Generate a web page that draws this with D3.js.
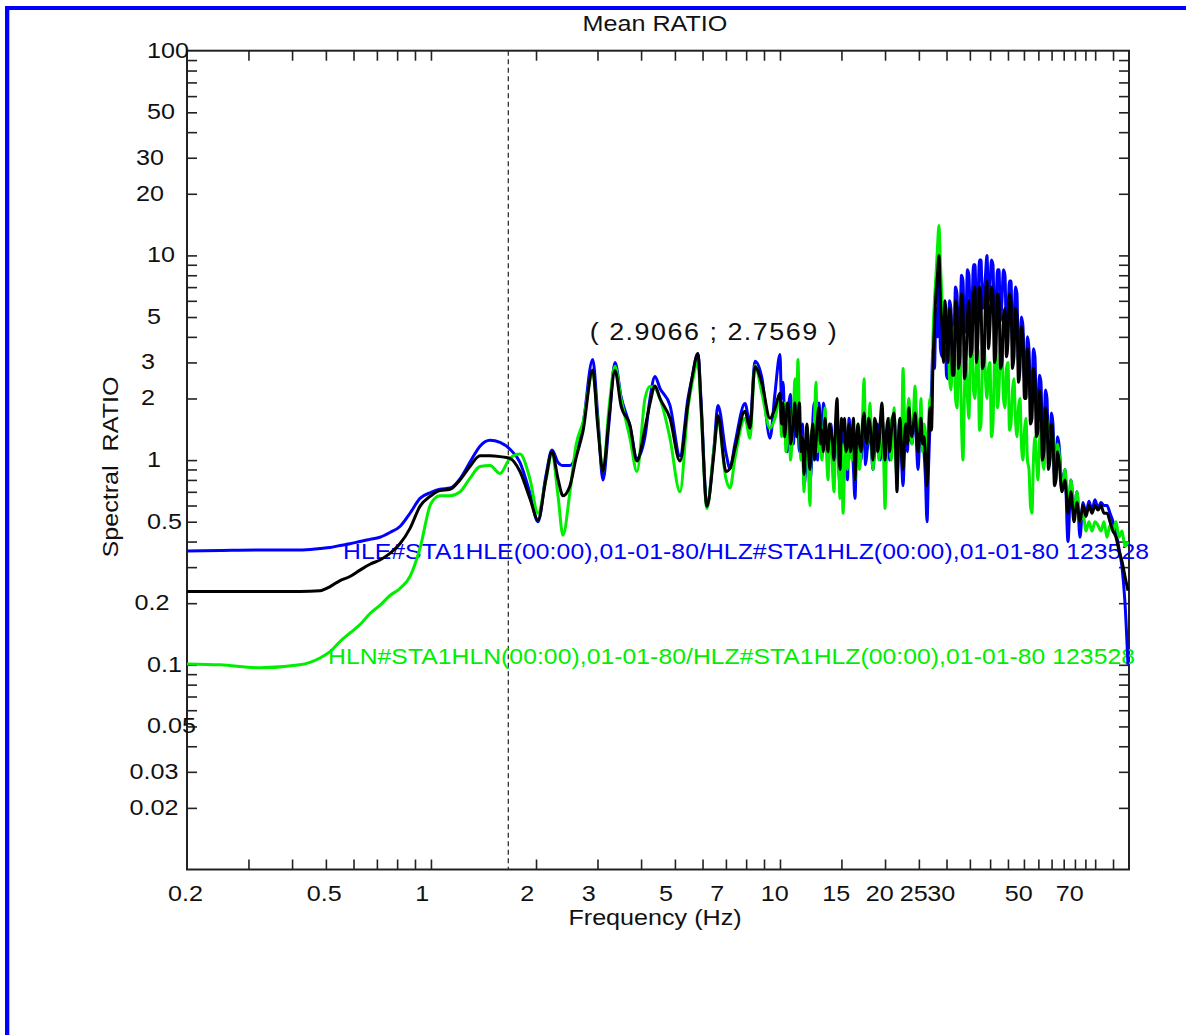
<!DOCTYPE html>
<html>
<head>
<meta charset="utf-8">
<script src="https://cdn.jsdelivr.net/npm/d3@7"></script>
<style>
  html, body { margin: 0; padding: 0; background: #fff; }
  svg { display: block; }
  text { font-family: "Liberation Sans", Arial, sans-serif; fill: #111; white-space: pre; }
</style>
</head>
<body>
<svg id="chart" width="1186" height="1035"></svg>
<script>
// Frequency grid (Hz) shared by the three spectral-ratio curves
const freqHz = [
  0.2, 0.249, 0.324, 0.421, 0.481, 0.514, 0.549, 0.586, 0.626, 0.669,
  0.714, 0.763, 0.815, 0.871, 0.930, 1.0, 1.061, 1.134, 1.211, 1.293,
  1.382, 1.476, 1.577, 1.684, 1.799, 1.921, 2.026, 2.135, 2.222, 2.312,
  2.389, 2.502, 2.603, 2.726, 2.9066, 3.009, 3.110, 3.236, 3.367, 3.503,
  3.717, 3.893, 4.104, 4.242, 4.384, 4.531, 4.840, 5.170, 5.450, 5.596,
  5.821, 5.937, 6.176, 6.469, 6.642, 7.004, 7.191, 7.430, 7.939, 8.204,
  8.479, 8.880, 9.361, 9.676, 10.0,
  10.10, 10.20, 10.30, 10.40, 10.50, 10.61, 10.72, 10.82, 10.93, 11.04,
  11.15, 11.26, 11.37, 11.49, 11.60, 11.72, 11.84, 11.95, 12.07, 12.19,
  12.31, 12.43, 12.55, 12.68, 12.81, 12.93, 13.06, 13.19, 13.32, 13.46,
  13.59, 13.73, 13.87, 14.00, 14.14, 14.28, 14.42, 14.57, 14.71, 14.86,
  15.01, 15.16, 15.31, 15.46, 15.61, 15.77, 15.92, 16.08, 16.24, 16.40,
  16.56, 16.73, 16.90, 17.07, 17.24, 17.41, 17.58, 17.76, 17.94, 18.11,
  18.29, 18.48, 18.66, 18.84, 19.03, 19.22, 19.41, 19.60, 19.80, 20.00,
  20.20, 20.40, 20.60, 20.80, 21.01, 21.22, 21.43, 21.64, 21.86, 22.08,
  22.30, 22.52, 22.74, 22.96, 23.19, 23.42, 23.65, 23.89, 24.13, 24.37,
  24.61, 24.86, 25.10, 25.35, 25.60, 25.86, 26.12, 26.38, 26.64,
  26.90, 27.17, 27.44, 27.71, 27.99, 28.27, 28.55, 28.83, 29.12, 29.41,
  29.70, 30.00, 30.29, 30.60, 30.90, 31.21, 31.52, 31.83, 32.15, 32.47,
  32.79, 33.12, 33.45, 33.78, 34.12, 34.45, 34.79, 35.14, 35.49, 35.84,
  36.20, 36.56, 36.92, 37.29, 37.66, 38.03, 38.41, 38.79, 39.18, 39.57,
  39.96, 40.36, 40.76, 41.17, 41.58, 41.99, 42.41, 42.83, 43.25, 43.68,
  44.12, 44.56, 45.00, 45.45, 45.90, 46.36, 46.82, 47.28, 47.75, 48.23,
  48.71, 49.19, 49.68, 50.17, 50.67, 51.18, 51.69, 52.20, 52.72, 53.24,
  53.77, 54.31, 54.85, 55.39, 55.94, 56.50, 57.06, 57.63, 58.21, 58.79,
  59.37, 59.96, 60.56, 61.16, 61.77, 62.38, 63.00,
  64.26, 65.55, 66.86, 68.19, 69.56, 70.95, 72.37,
  73.81, 75.29, 76.79, 78.34, 79.90, 81.50, 83.13, 84.79, 86.49, 88.22,
  89.99, 91.79, 93.62, 95.49, 97.40, 99.34
];

// HLE / HLZ ratio (blue)
const ratioHLE = [
  0.36, 0.362, 0.364, 0.364, 0.37, 0.374, 0.383, 0.39, 0.40, 0.41,
  0.42, 0.443, 0.474, 0.55, 0.65, 0.695, 0.72, 0.73, 0.81, 0.975,
  1.17, 1.25, 1.22, 1.13, 0.975, 0.69, 0.50, 0.84, 1.12, 0.975,
  0.94, 0.94, 1.05, 1.48, 3.1, 1.6, 0.80, 1.51, 3.0, 2.05,
  1.46, 1.02, 1.30, 2.0, 2.56, 2.24, 1.85, 1.05, 2.0, 2.51,
  3.32, 2.0, 0.60, 1.14, 1.85, 1.08, 0.91, 1.2, 1.89, 1.51,
  3.04, 2.51, 1.28, 2.12, 3.28,
  2.0, 2.4, 1.7, 1.3, 1.1, 1.9, 2.1, 1.4, 1.2, 2.0,
  2.3, 1.5, 1.1, 1.2, 1.5, 0.75, 0.9, 1.4, 1.2, 0.8,
  0.95, 1.6, 1.9, 1.1, 1.0, 1.9, 1.5, 1.3, 1.9, 1.7,
  1.2, 1.0, 1.3, 1.5, 1.1, 0.9, 1.2, 1.7, 1.0, 0.75,
  1.1, 1.3, 1.5, 1.0, 0.8, 1.6, 1.3, 1.2, 0.9, 0.65,
  1.1, 1.4, 1.2, 1.0, 1.4, 1.6, 0.95, 1.1, 1.3, 1.5,
  1.1, 0.9, 1.1, 1.4, 1.5, 1.1, 1.0, 1.6, 1.3, 0.9,
  1.2, 1.5, 1.0, 1.2, 1.4, 1.7, 1.2, 0.8, 1.2, 1.5,
  1.0, 0.75, 1.1, 1.4, 1.1, 1.7, 1.3, 1.2, 1.5, 1.8,
  1.2, 0.9, 1.2, 1.6, 1.3, 1.1, 0.8, 0.5, 0.9,
  1.5, 2.2, 3.5, 2.8, 5.5, 4.0, 7.5, 3.5, 3.2, 5.5,
  5.0, 2.6, 2.5, 6.0, 5.5, 3.0, 3.5, 7.0, 6.5, 3.8,
  4.5, 8.0, 7.5, 4.2, 5.0, 8.5, 8.0, 4.5, 5.5, 9.0,
  9.0, 5.0, 6.0, 9.5, 9.5, 5.5, 6.5, 8.0, 10.0, 6.0,
  7.0, 9.5, 9.0, 4.5, 5.5, 8.5, 8.5, 4.8, 6.0, 8.5,
  8.0, 4.0, 5.0, 7.5, 7.5, 3.8, 4.5, 7.0, 6.5, 3.0,
  3.5, 5.0, 4.5, 2.5, 2.8, 4.0, 3.5, 2.0, 2.2, 3.5,
  3.2, 1.7, 1.8, 2.6, 2.4, 1.3, 1.4, 2.2, 2.0, 1.1,
  1.2, 1.7, 1.5, 0.85, 0.9, 1.3, 1.2,
  0.75, 0.9, 0.4, 0.8, 0.55, 0.7, 0.42,
  0.62, 0.55, 0.63, 0.57, 0.64, 0.58, 0.62, 0.6, 0.6, 0.55,
  0.5, 0.44, 0.37, 0.3, 0.2, 0.1
];

// HLN / HLZ ratio (green)
const ratioHLN = [
  0.101, 0.10, 0.0967, 0.10, 0.108, 0.116, 0.13, 0.143, 0.157, 0.178,
  0.195, 0.218, 0.236, 0.27, 0.37, 0.614, 0.67, 0.67, 0.70, 0.814,
  0.93, 0.94, 0.86, 1.02, 1.07, 0.81, 0.55, 0.80, 1.07, 0.67,
  0.43, 0.70, 1.18, 1.53, 2.65, 1.5, 0.88, 1.79, 2.87, 2.0,
  1.28, 0.88, 2.0, 2.29, 2.24, 2.0, 1.28, 0.70, 1.79, 2.36,
  3.0, 1.79, 0.58, 1.14, 1.54, 0.81, 0.73, 1.02, 1.6, 1.28,
  2.9, 2.12, 1.43, 1.6, 2.0,
  1.3, 1.5, 1.9, 1.1, 1.4, 1.8, 1.0, 1.2, 1.7, 2.5,
  1.6, 3.1, 1.5, 1.0, 1.3, 0.7, 1.1, 1.3, 0.9, 0.6,
  1.4, 1.1, 1.5, 2.4, 1.1, 1.5, 1.2, 1.0, 1.3, 1.8,
  1.1, 0.8, 1.5, 1.3, 0.9, 0.7, 1.2, 1.6, 1.1, 0.65,
  1.2, 0.55, 0.9, 1.2, 0.9, 1.4, 1.2, 1.0, 1.4, 0.8,
  1.2, 1.5, 0.9, 1.1, 1.6, 2.5, 1.4, 1.2, 1.4, 1.9,
  1.2, 0.9, 1.5, 1.3, 1.2, 1.0, 1.3, 1.7, 1.1, 0.58,
  1.2, 1.4, 1.6, 1.0, 1.2, 1.8, 1.1, 0.8, 1.3, 1.6,
  1.2, 2.8, 1.6, 1.3, 1.7, 2.0, 1.4, 1.2, 1.7, 2.3,
  1.7, 1.4, 1.3, 2.0, 1.1, 1.5, 1.3, 1.0, 1.5,
  2.0, 1.6, 4.0, 6.0, 8.0, 11.0, 14.0, 9.0, 6.0, 3.5,
  4.0, 5.5, 5.0, 2.5, 2.2, 3.5, 4.5, 2.0, 1.8, 3.0,
  3.5, 1.5, 1.0, 2.2, 3.0, 2.0, 1.6, 3.5, 4.0, 2.2,
  2.0, 3.0, 3.5, 1.4, 1.5, 3.2, 4.0, 2.5, 2.0, 2.8,
  3.0, 1.3, 1.5, 3.0, 3.5, 1.8, 2.2, 3.5, 3.8, 2.0,
  1.8, 2.8, 3.0, 1.4, 1.5, 2.2, 2.5, 1.6, 1.3, 1.8,
  2.0, 1.2, 1.0, 1.4, 1.6, 1.0, 0.9, 0.6, 0.55, 1.0,
  1.3, 1.0, 0.8, 1.2, 1.5, 1.0, 0.9, 1.4, 1.6, 1.1,
  1.0, 1.4, 1.3, 0.9, 0.8, 1.2, 1.1,
  0.7, 0.9, 0.6, 0.8, 0.55, 0.7, 0.5,
  0.55, 0.45, 0.5, 0.45, 0.5, 0.48, 0.45, 0.5, 0.42, 0.48,
  0.45, 0.5, 0.42, 0.45, 0.38, 0.4
];

// Mean ratio (black)
const ratioMean = [
  0.228, 0.228, 0.228, 0.228, 0.23, 0.241, 0.258, 0.27, 0.29, 0.31,
  0.325, 0.35, 0.39, 0.464, 0.594, 0.67, 0.71, 0.72, 0.80, 0.93,
  1.05, 1.05, 1.04, 1.02, 0.88, 0.65, 0.51, 0.81, 1.10, 0.81,
  0.67, 0.75, 1.02, 1.38, 2.7569, 1.43, 0.88, 1.6, 2.74, 1.85,
  1.48, 0.99, 1.43, 1.89, 2.3, 2.0, 1.6, 0.99, 1.89, 2.51,
  3.32, 1.89, 0.595, 1.08, 1.65, 0.88, 0.91, 1.14, 1.73, 1.43,
  2.86, 2.36, 1.6, 1.79, 2.12,
  1.5, 1.9, 1.3, 1.5, 1.9, 1.8, 1.2, 1.3, 1.6, 1.9,
  1.3, 1.6, 1.9, 1.1, 1.3, 0.85, 1.2, 1.5, 1.1, 0.9,
  1.3, 1.5, 1.0, 1.2, 1.6, 1.8, 1.2, 1.4, 1.1, 1.6,
  1.3, 1.1, 1.5, 1.4, 1.2, 1.0, 1.5, 2.0, 1.2, 0.9,
  1.6, 1.4, 1.6, 1.1, 1.2, 1.5, 1.1, 1.3, 1.6, 0.8,
  1.2, 1.5, 1.2, 1.1, 1.5, 1.7, 1.3, 1.2, 1.6, 1.5,
  1.2, 1.0, 1.6, 1.5, 1.1, 1.2, 1.6, 1.9, 1.3, 1.0,
  1.4, 1.6, 1.1, 1.3, 1.6, 1.7, 1.2, 0.7, 1.3, 1.6,
  1.1, 0.9, 1.3, 1.5, 1.2, 1.8, 1.4, 1.3, 1.5, 1.7,
  1.4, 1.1, 1.3, 1.6, 1.2, 1.3, 1.0, 0.75, 1.2,
  1.8, 1.4, 3.0, 4.5, 6.5, 8.0, 10.0, 6.0, 4.5, 3.0,
  6.0, 4.5, 3.0, 5.5, 5.0, 2.6, 2.6, 6.0, 5.5, 2.8,
  3.2, 6.5, 5.5, 2.5, 3.0, 5.0, 6.0, 3.2, 3.5, 6.5,
  7.0, 3.0, 4.0, 7.0, 6.0, 2.8, 3.0, 6.0, 7.5, 3.5,
  4.5, 7.0, 6.5, 3.0, 3.5, 6.5, 6.0, 2.8, 3.0, 5.0,
  5.5, 3.2, 3.8, 6.5, 6.0, 2.8, 3.2, 5.5, 5.0, 2.4,
  2.8, 4.5, 4.0, 2.0, 2.0, 3.5, 3.0, 1.5, 1.6, 2.8,
  2.5, 1.3, 1.4, 2.2, 1.9, 1.0, 1.1, 1.8, 1.6, 0.9,
  1.0, 1.5, 1.3, 0.75, 0.8, 1.1, 1.0,
  0.7, 0.8, 0.55, 0.7, 0.5, 0.62, 0.5,
  0.6, 0.53, 0.6, 0.55, 0.6, 0.57, 0.6, 0.55, 0.55, 0.5,
  0.45, 0.42, 0.36, 0.32, 0.27, 0.23
];

const seriesLabels = [
  "HLE#STA1HLE(00:00),01-01-80/HLZ#STA1HLZ(00:00),01-01-80 123528",
  "HLN#STA1HLN(00:00),01-01-80/HLZ#STA1HLZ(00:00),01-01-80 123528"
];
const peakFreq = 2.9066;
const peakRatio = 2.7569;
const markerFreq = 1.666;

const xTicks = [0.3, 0.4, 0.5, 0.6, 0.7, 0.8, 0.9, 1, 2, 3, 4, 5, 6, 7, 8, 9, 10,
  15, 20, 25, 30, 35, 40, 45, 50, 55, 60, 65, 70, 75, 80, 90];
const xLabelValues = [0.2, 0.5, 1, 2, 3, 5, 7, 10, 15, 20, 25, 30, 50, 70];
const xLabelText = ["0.2", "0.5", "1", "2", "3", "5", "7", "10", "15", "20", "25", "30", "50", "70"];
const yTicks = [0.02, 0.03, 0.04, 0.05, 0.06, 0.07, 0.08, 0.09,
  0.1, 0.2, 0.3, 0.4, 0.5, 0.6, 0.7, 0.8, 0.9,
  1, 2, 3, 4, 5, 6, 7, 8, 9,
  10, 20, 30, 40, 50, 60, 70, 80, 90];
const yLabelValues = [100, 50, 30, 20, 10, 5, 3, 2, 1, 0.5, 0.2, 0.1, 0.05, 0.03, 0.02];
const yLabelText = ["100", "50", "30", "20", "10", "5", "3", "2", "1", "0.5", "0.2", "0.1", "0.05", "0.03", "0.02"];

(function draw() {
  const svg = d3.select("#chart");
  const plotL = 187, plotR = 1129, plotT = 50.7, plotB = 869.5;
  const STRETCH = 1.17;   // the plot font is drawn wide
  const FS = 21.5;

  const x = d3.scaleLog().domain([0.2, 100]).range([plotL, plotR]);
  const y = d3.scaleLog().domain([0.01, 100]).range([plotB, plotT]);

  // wide text helper
  function wideText(parent, px, py, str, anchor, opts = {}) {
    const rot = opts.rotate ? ` rotate(${opts.rotate})` : "";
    const sx = opts.stretch || STRETCH;
    const t = parent.append("text")
      .attr("transform", `translate(${px},${py})${rot} scale(${sx},1)`)
      .attr("text-anchor", anchor)
      .attr("font-size", opts.size || FS)
      .text(str);
    if (opts.fill) t.style("fill", opts.fill);
    if (opts.length) t.attr("textLength", opts.length).attr("lengthAdjust", "spacing");
    return t;
  }

  // window frame (blue, left and top edges)
  svg.append("rect").attr("x", 5).attr("y", 6).attr("width", 4.3).attr("height", 1029).attr("fill", "#0000ff");
  svg.append("rect").attr("x", 5).attr("y", 6).attr("width", 1181).attr("height", 4).attr("fill", "#0000ff");

  // axes with inward ticks on all four sides
  const tickLen = 10;
  function styleAxis(g) {
    g.select(".domain").remove();
    g.selectAll(".tick line").attr("stroke", "#222").attr("stroke-width", 1.6);
    g.selectAll(".tick text").remove();
  }
  svg.append("g").attr("transform", `translate(0,${plotB})`)
    .call(d3.axisBottom(x).tickValues(xTicks).tickSize(-tickLen)).call(styleAxis);
  svg.append("g").attr("transform", `translate(0,${plotT})`)
    .call(d3.axisTop(x).tickValues(xTicks).tickSize(-tickLen)).call(styleAxis);
  svg.append("g").attr("transform", `translate(${plotL},0)`)
    .call(d3.axisLeft(y).tickValues(yTicks).tickSize(-tickLen)).call(styleAxis);
  svg.append("g").attr("transform", `translate(${plotR},0)`)
    .call(d3.axisRight(y).tickValues(yTicks).tickSize(-tickLen)).call(styleAxis);

  svg.append("rect")
    .attr("x", plotL).attr("y", plotT).attr("width", plotR - plotL).attr("height", plotB - plotT)
    .attr("fill", "none").attr("stroke", "#222").attr("stroke-width", 2);

  // tick labels
  const xl = svg.append("g");
  xLabelValues.forEach((v, i) => {
    const n = xLabelText[i].length;
    wideText(xl, x(v) - 12.4 + 3.6 * n, 901, xLabelText[i], "middle");
  });

  const mantissa = d => Math.round(d / Math.pow(10, Math.floor(Math.log10(d) + 1e-9)));
  const yl = svg.append("g");
  yLabelValues.forEach((v, i) => {
    const m = mantissa(v);
    if (m === 1 || m === 5) wideText(yl, 147, y(v) + 7, yLabelText[i], "start");
    else wideText(yl, 146 + 2 * yLabelText[i].length, y(v) + 7, yLabelText[i], "middle");
  });

  // titles
  wideText(svg, 655, 31, "Mean RATIO", "middle");
  wideText(svg, 655, 925, "Frequency (Hz)", "middle");
  wideText(svg, 118, 467, "Spectral  RATIO", "middle", { rotate: -90 });

  // dashed marker
  svg.append("line")
    .attr("x1", x(markerFreq)).attr("x2", x(markerFreq)).attr("y1", plotT).attr("y2", plotB)
    .attr("stroke", "#333").attr("stroke-width", 1.3).attr("stroke-dasharray", "5,3.5");

  // series labels inside the plot
  wideText(svg, 343, 559, seriesLabels[0], "start",
    { size: 23, stretch: 1.075, length: 806 / 1.075, fill: "#0000ff" });
  wideText(svg, 328, 664, seriesLabels[1], "start",
    { size: 23, stretch: 1.075, length: 807 / 1.075, fill: "#00ee00" });

  // curves
  svg.append("clipPath").attr("id", "plotClip").append("rect")
    .attr("x", plotL).attr("y", plotT).attr("width", plotR - plotL).attr("height", plotB - plotT);
  const line = d3.line().defined(d => d[1] != null)
    .x(d => x(d[0])).y(d => y(d[1])).curve(d3.curveMonotoneX);
  const plot = svg.append("g").attr("clip-path", "url(#plotClip)");
  [[ratioHLE, "#0000ff"], [ratioHLN, "#00ee00"], [ratioMean, "#000000"]].forEach(([vals, color]) => {
    plot.append("path")
      .datum(freqHz.map((f, i) => [f, vals[i]]))
      .attr("d", line)
      .attr("fill", "none").attr("stroke", color)
      .attr("stroke-width", 3).attr("stroke-linejoin", "round");
  });

  // peak annotation
  wideText(svg, x(peakFreq) - 3, y(peakRatio) - 30, `( ${peakFreq} ; ${peakRatio} )`, "start",
    { size: 23, length: 247 / STRETCH });
})();
</script>
</body>
</html>
